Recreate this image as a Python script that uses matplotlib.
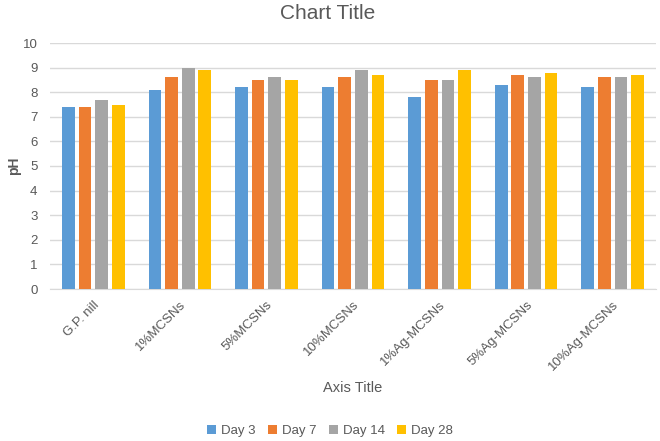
import matplotlib.pyplot as plt
import numpy as np

categories = ["G.P. nill", "1%MCSNs", "5%MCSNs", "10%MCSNs",
              "1%Ag-MCSNs", "5%Ag-MCSNs", "10%Ag-MCSNs"]
series_names = ["Day 3", "Day 7", "Day 14", "Day 28"]
day3 = [7.4, 8.1, 8.2, 8.2, 7.8, 8.3, 8.2]
day7 = [7.4, 8.6, 8.5, 8.6, 8.5, 8.7, 8.6]
day14 = [7.7, 9.0, 8.6, 8.9, 8.5, 8.6, 8.6]
day28 = [7.5, 8.9, 8.5, 8.7, 8.9, 8.8, 8.7]
colors = ["#5B9BD5", "#ED7D31", "#A5A5A5", "#FFC000"]

txt = "#595959"
plt.rcParams["font.family"] = ["Liberation Sans", "DejaVu Sans"]

fig = plt.figure(figsize=(6.6, 4.41), dpi=100)
ax = fig.add_axes([50 / 660, 1 - 289 / 441, 606 / 660, 246 / 441])

x = np.arange(len(categories))
w = 0.147
step = 0.192
for i, (vals, name) in enumerate(zip([day3, day7, day14, day28], series_names)):
    ax.bar(x + (i - 1.5) * step, vals, width=w, color=colors[i], label=name, zorder=3)

ax.set_xlim(-0.5, len(categories) - 0.5)
ax.set_ylim(0, 10)
ax.set_yticks(range(0, 11))
ax.grid(axis="y", color="#D9D9D9", linewidth=1, zorder=0)
for s in ["top", "right", "left"]:
    ax.spines[s].set_visible(False)
ax.spines["bottom"].set_color("#D9D9D9")
ax.tick_params(axis="both", length=0, colors=txt, labelsize=9.5)
ax.tick_params(axis="y", pad=9)
ax.tick_params(axis="x", pad=7)
ax.set_xticks(x)
ax.set_xticklabels(categories, rotation=45, ha="right", rotation_mode="anchor")

ax.set_ylabel("pH", color=txt, fontsize=10, fontweight="bold")
ax.yaxis.set_label_coords(-0.048, 0.5)
ax.set_xlabel("Axis Title", color=txt, fontsize=10.5, labelpad=6)
fig.text(0.497, 0.97, "Chart Title", ha="center", va="center", color=txt, fontsize=15)

fig.legend(loc="center", bbox_to_anchor=(0.5, 0.023), ncol=4, frameon=False,
           fontsize=9.5, labelcolor=txt, handlelength=0.7, handleheight=0.7,
           handletextpad=0.4, columnspacing=0.9)

fig.savefig("out.png", dpi=100)
